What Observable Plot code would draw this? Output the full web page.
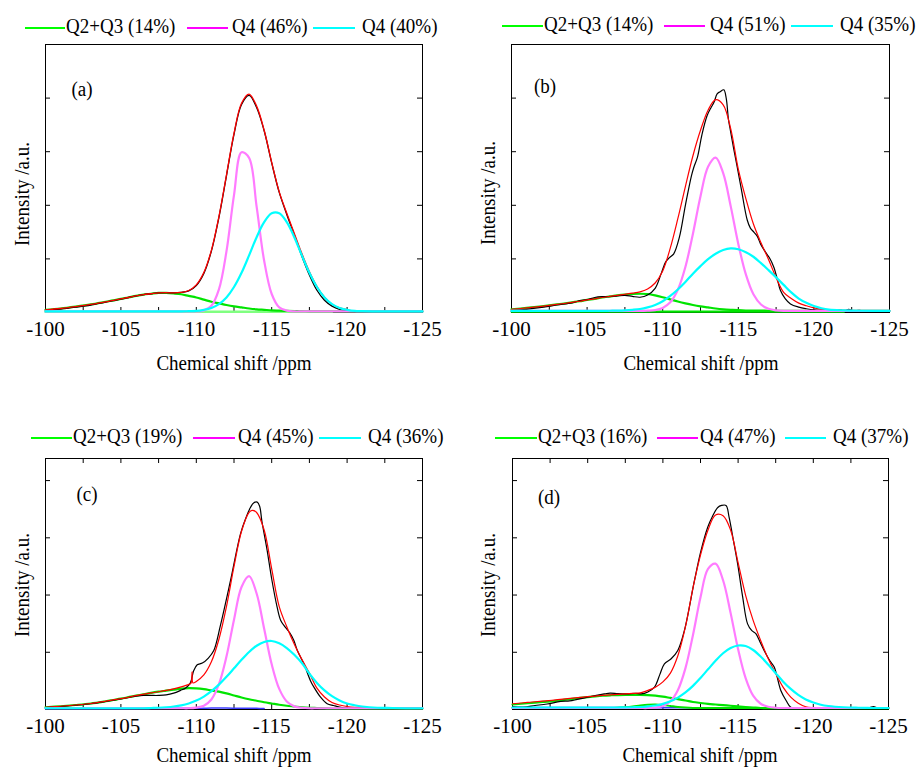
<!DOCTYPE html>
<html><head><meta charset="utf-8">
<script src="https://cdn.jsdelivr.net/npm/d3@7"></script>
<script src="https://cdn.jsdelivr.net/npm/@observablehq/plot@0.6"></script>
<style>
body{margin:0;background:#fff;}
#root{position:relative;width:918px;height:771px;overflow:hidden;font-family:"Liberation Serif","Times New Roman",serif;color:#000;background:#fff;}
.t{position:absolute;font-size:20px;line-height:1;white-space:nowrap;transform:translate(-50%,-50%) scaleX(0.95);}
.leg{position:absolute;font-size:20px;line-height:1;white-space:nowrap;transform-origin:0 50%;transform:scaleX(0.95);}
.ln{position:absolute;height:2px;}
.pl{position:absolute;}
</style></head><body><div id="root"></div>
<script>
// ---------- shared chemical-shift grid (ppm) ----------
const ppm = [-100,-101,-102,-103,-104,-104.5,-105,-105.5,-106,-106.5,-107,-107.5,-108,-108.5,-109,-109.5,-110,-110.5,-111,-111.5,-112,-112.5,-113,-113.5,-114,-114.5,-115,-115.5,-116,-116.5,-117,-117.5,-118,-118.5,-119,-119.5,-120,-120.5,-121,-122,-123,-124,-125];
const xMajor = [-100,-105,-110,-115,-120,-125];
const xMinor = [-102.5,-107.5,-112.5,-117.5,-122.5];
const yTicksAB = [20,40,60,80];
const yTicksCD = [22.8,45.6,68.4,91.2];

// ---------- panel (a) ----------
const greenA = [1.0,1.5,2.2,3.0,4.0,4.5,5.1,5.6,6.2,6.7,7.0,7.3,7.3,7.1,6.8,6.2,5.6,4.8,4.0,3.4,2.8,2.3,1.9,1.5,1.2,1.0,0.8,0.7,0.6,0.55,0.5,0.45,0.45,0.4,0.4,0.4,0.4,0.4,0.4,0.4,0.4,0.4,0.4];
const magentaA = [0.4,0.4,0.4,0.4,0.4,0.4,0.4,0.4,0.4,0.4,0.4,0.4,0.4,0.4,0.4,0.4,0.4,0.8,2.5,8.6,22.8,43.8,59.8,57.7,39.5,19.3,6.9,1.9,0.7,0.4,0.4,0.4,0.4,0.4,0.4,0.4,0.4,0.4,0.4,0.4,0.4,0.4,0.4];
const cyanA = [0.4,0.4,0.4,0.4,0.4,0.4,0.4,0.4,0.4,0.4,0.4,0.4,0.4,0.4,0.4,0.5,0.6,1.0,1.7,3.1,5.6,9.5,14.8,21.3,28.1,33.7,37.0,37.0,33.7,28.1,21.3,14.8,9.5,5.6,3.1,1.7,1.0,0.6,0.5,0.4,0.4,0.4,0.4];
const redA = [1.0,1.5,2.2,3.0,4.0,4.5,5.1,5.6,6.2,6.7,7.0,7.3,7.4,7.3,7.5,8.2,10.3,14.9,23.2,35.8,51.3,66.8,78.1,81.5,77.0,68.0,56.0,45.0,37.0,29.5,22.0,15.2,9.7,5.7,3.1,1.7,1.0,0.6,0.5,0.4,0.4,0.4,0.4];
const blackA = [0.8,1.3,2.0,2.8,3.9,4.4,5.0,5.6,6.2,6.7,7.0,7.3,7.4,7.3,7.5,8.1,10.1,14.6,22.9,35.5,51.0,66.5,77.6,81.0,76.5,67.8,55.8,44.8,36.6,29.0,21.0,14.0,8.3,4.6,2.4,1.2,0.7,0.5,0.4,0.4,0.4,0.4,0.4];
const baseA_ppm = [-100,-110,-119];
const baseA = [0.3,0.3,0.3];
const legendA = ["Q2+Q3 (14%)","Q4 (46%)","Q4 (40%)"];

// ---------- panel (b) ----------
const greenB = [1.2,1.7,2.3,3.0,3.8,4.2,4.7,5.1,5.6,6.0,6.4,6.7,6.9,7.0,6.9,6.4,5.7,4.9,4.1,3.4,2.8,2.3,1.9,1.5,1.2,1.0,0.85,0.75,0.7,0.7,0.65,0.65,0.6,0.6,0.6,0.6,0.6,0.6,0.6,0.6,0.6,0.6,0.6];
const magentaB = [0.6,0.6,0.6,0.6,0.6,0.6,0.6,0.6,0.6,0.6,0.6,0.6,0.6,0.6,0.7,0.9,1.7,3.8,8.5,17.0,29.4,43.4,54.4,57.8,52.0,39.6,25.6,14.2,6.8,3.0,1.4,0.8,0.6,0.6,0.6,0.6,0.6,0.6,0.6,0.6,0.6,0.6,0.6];
const cyanB = [0.6,0.6,0.6,0.6,0.6,0.6,0.6,0.6,0.6,0.65,0.7,0.8,1.0,1.3,1.9,2.8,4.2,6.2,8.6,11.4,14.5,17.3,19.9,21.9,23.3,23.9,23.6,22.5,20.8,18.4,15.8,13.1,10.3,7.5,5.2,3.6,2.4,1.6,1.1,0.8,0.65,0.6,0.6];
const redB = [1.2,1.7,2.3,3.0,3.8,4.2,4.7,5.1,5.6,6.0,6.4,6.8,7.2,7.7,8.8,11.0,15.5,24.0,35.0,47.0,58.5,68.0,75.5,79.4,77.5,68.5,53.5,42.5,33.0,26.0,19.8,13.0,7.5,5.2,3.5,2.5,1.7,1.2,1.0,0.8,0.7,0.6,0.6];
const blackB_ppm = [-100,-101,-102,-103,-104,-104.5,-105,-105.5,-106,-106.5,-107,-107.5,-108,-108.5,-109,-109.5,-109.9,-110.19,-110.45,-110.73,-111.1,-111.5,-111.9,-112.06,-112.3,-112.6,-112.94,-113.2,-113.4,-113.6,-113.8,-114.04,-114.2,-114.35,-114.48,-114.7,-114.93,-115.2,-115.59,-115.8,-116.03,-116.25,-116.47,-116.8,-117.05,-117.35,-117.6,-117.79,-118.1,-118.45,-119,-119.5,-120,-121,-121.8,-122,-122.3,-122.6,-123,-123.5,-124,-124.5,-125];
const blackB = [0.8,1.2,1.9,2.8,3.6,4.4,4.8,5.6,5.9,5.9,6.2,6.4,6.0,5.7,6.5,9.0,14.5,18.8,20.5,21.9,28,40,51,54.2,58,66.5,73.5,76.5,78.5,81.6,82.4,83.1,80,72,67.9,61,54.2,46,34.5,31.5,30,28.5,25.6,22.5,20.5,16.9,12,8.2,5.2,3.2,2.0,1.4,1.0,0.8,0.9,0.5,1.2,0.6,0.8,0.5,0.7,0.6,0.6];
const baseB_ppm = [-100,-110,-122];
const baseB = [0.35,0.35,0.35];
const legendB = ["Q2+Q3 (14%)","Q4 (51%)","Q4 (35%)"];

// ---------- panel (c) ----------
const greenC = [0.9,1.3,1.8,2.4,3.3,3.8,4.3,4.9,5.5,6.0,6.6,7.1,7.5,7.9,8.3,8.5,8.4,8.1,7.6,7.1,6.4,5.6,4.8,4.1,3.5,2.9,2.4,1.9,1.5,1.2,0.9,0.7,0.6,0.5,0.4,0.4,0.4,0.4,0.4,0.4,0.4,0.4,0.4];
const magentaC = [0.5,0.5,0.5,0.5,0.5,0.5,0.5,0.5,0.5,0.5,0.5,0.5,0.5,0.5,0.5,0.5,0.75,1.5,4.0,10.1,21.1,35.8,48.8,53.1,46.2,32.2,18.0,8.2,3.2,1.25,0.7,0.5,0.5,0.5,0.5,0.5,0.5,0.5,0.5,0.5,0.5,0.5,0.5];
const cyanC = [0.5,0.5,0.5,0.5,0.5,0.5,0.5,0.5,0.5,0.5,0.6,0.7,0.9,1.2,1.65,2.4,3.55,5.15,7.3,9.9,13.0,16.4,19.8,22.9,25.4,26.9,27.3,26.4,24.5,21.8,18.5,14.3,10.6,7.6,5.3,3.6,2.4,1.7,1.2,0.7,0.6,0.5,0.5];
const blueC_ppm = [-100,-104,-108,-110,-111,-112,-113,-114,-114.5];
const blueC = [0.4,0.4,0.45,0.5,0.55,0.55,0.5,0.45,0.4];
const redC_ppm = [-100,-101,-102,-103,-104,-105,-106,-107,-108,-108.5,-109,-109.5,-109.65,-109.72,-109.78,-110,-110.5,-111,-111.5,-112,-112.5,-113,-113.5,-113.7,-114,-114.5,-115,-115.5,-116,-116.5,-117,-117.5,-118,-118.5,-119,-119.5,-120,-120.5,-121,-122,-123,-124,-125];
const redC = [0.9,1.3,1.8,2.4,3.3,4.3,5.5,6.6,7.6,8.2,9.0,10.0,10.5,15.0,10.6,11.2,13.8,19.0,28.0,41.0,57.0,71.0,78.5,79.3,78.5,71.5,56,41,33,26,20,14.5,8.5,5.0,2.8,1.8,1.2,0.9,0.8,0.7,0.6,0.6,0.5];
const blackC_ppm = [-100,-101,-102,-103,-104,-105,-106,-106.5,-107,-107.5,-108,-108.5,-108.95,-109.3,-109.6,-109.83,-110.06,-110.4,-110.8,-111.16,-111.6,-112.27,-112.93,-113.3,-113.6,-113.8,-114.04,-114.2,-114.35,-114.7,-115.0,-115.36,-115.6,-115.9,-116.2,-116.47,-116.7,-117.13,-117.57,-117.8,-118.24,-118.68,-119.1,-119.5,-120,-121,-122,-123,-124,-125];
const blackC = [0.8,1.2,1.7,2.3,3.2,4.2,5.3,5.6,5.6,5.6,5.8,6.5,7.6,8.6,10.5,15.5,17.8,18.5,20.5,23.5,33.5,51.4,70,76.5,80.6,82.3,82.6,81,75,63.3,52,40.8,35.5,32.8,30.5,27.5,23.5,18.2,11.5,8.9,4.9,2.3,1.6,1.0,0.6,0.6,0.7,0.6,0.5,0.5];
const legendC = ["Q2+Q3 (19%)","Q4 (45%)","Q4 (36%)"];

// ---------- panel (d) ----------
const greenD = [2.0,2.5,3.0,3.5,4.2,4.6,4.95,5.25,5.5,5.65,5.75,5.8,5.85,5.85,5.75,5.5,5.1,4.6,4.1,3.6,3.0,2.6,2.25,2.0,1.75,1.5,1.25,1.0,0.8,0.6,0.55,0.5,0.5,0.5,0.5,0.5,0.5,0.5,0.5,0.5,0.5,0.5,0.5];
const green2D = [0.6,0.6,0.6,0.6,0.6,0.6,0.6,0.6,0.6,0.6,0.7,0.9,1.2,1.6,1.9,2.0,1.8,1.4,1.0,0.75,0.6,0.6,0.6,0.6,0.6,0.6,0.6,0.6,0.6,0.6,0.6,0.6,0.6,0.6,0.6,0.6,0.6,0.6,0.6,0.6,0.6,0.6,0.6];
const magentaD = [0.6,0.6,0.6,0.6,0.6,0.6,0.6,0.6,0.6,0.6,0.6,0.6,0.6,0.6,0.6,0.8,1.4,3.3,7.8,16.5,29.7,44.7,56.0,58.1,51.5,38.5,24.0,12.5,5.5,2.3,1.1,0.7,0.6,0.6,0.6,0.6,0.6,0.6,0.6,0.6,0.6,0.6,0.6];
const cyanD = [0.8,0.8,0.8,0.8,0.8,0.8,0.8,0.8,0.8,0.8,0.8,0.85,0.9,1.0,1.25,1.6,2.25,3.25,4.75,6.8,9.4,12.55,16.0,19.4,22.4,24.5,25.5,25.3,23.7,21.1,17.9,14.45,11.1,8.2,5.8,4.0,2.8,1.9,1.4,0.9,0.7,0.6,0.6];
const blueD_ppm = [-100,-104,-108,-110,-112,-113];
const blueD = [0.8,0.8,0.75,0.7,0.65,0.6];
const redD = [2.3,2.8,3.3,3.9,4.5,4.8,5.1,5.35,5.6,5.8,6.0,6.2,6.4,6.6,7.6,8.9,11.0,14.5,21.5,33.0,48.5,61.5,71.5,77.5,77.2,71.5,58.5,45.5,35.5,27.5,20.3,14.3,8.8,4.9,2.5,1.1,0.7,0.6,0.5,0.5,0.5,0.5,0.5];
const blackD_ppm = [-100,-100.7,-101.5,-102.3,-103.2,-103.8,-104.3,-105,-105.5,-106.1,-106.5,-107,-107.6,-108.2,-108.55,-109,-109.44,-109.8,-110.1,-110.55,-110.99,-111.43,-112.1,-112.5,-112.98,-113.3,-113.65,-113.9,-114.2,-114.4,-114.7,-114.97,-115.3,-115.63,-115.9,-116.18,-116.45,-116.73,-117.1,-117.4,-117.84,-118.2,-118.5,-119,-120,-121,-122,-123,-123.7,-124,-124.3,-125];
const blackD = [1.2,1.0,1.6,2.2,3.2,3.4,4.0,4.9,5.5,6.2,6.5,6.3,6.2,6.4,6.2,7.0,8.9,14,18.2,20.2,23.5,31.5,51.4,62.5,72.6,77,80.5,81.3,81.3,76.6,67,58,45,34.1,31.5,30.2,27,23.5,19.5,16.9,7.6,3.5,0.9,0.6,0.5,0.6,0.5,0.6,0.7,1.2,0.6,0.5];
const legendD = ["Q2+Q3 (16%)","Q4 (47%)","Q4 (37%)"];

const panelLabels = ["(a)","(b)","(c)","(d)"];
const xTitle = "Chemical shift /ppm";
const yTitle = "Intensity /a.u.";

// ---------- styles ----------
const C = {green:"#00e400", lgreen:"#80ff80", magenta:"#ff7bff", cyan:"#00ffff", red:"#ff0000", black:"#000000", blue:"#3c3cff"};
const LEGC = ["#00ff00","#ff00ff","#00ffff"];
const root = document.getElementById("root");
const zip = (xs, ys) => xs.map((x, i) => [x, ys[i]]);
const TICK_FONT = 21;

function panel(p) {
  const fw = p.width - p.ml - p.mr, fh = p.height - p.mt - p.mb;
  const tY = 5 * 100 / fh, tX = 5 * 25 / fw;
  const xAll = xMajor.concat(xMinor);
  const marks = [
    Plot.frame({stroke: "#000", strokeWidth: 1}),
    Plot.ruleX(xAll, {x: d => d, y1: 0, y2: tY, stroke: "#000"}),
    Plot.ruleY(p.yTicks, {y: d => d, x1: -100, x2: -100 - tX, stroke: "#000"}),
    Plot.ruleY(p.yTicks, {y: d => d, x1: -125 + tX, x2: -125, stroke: "#000"})
  ];
  if (p.topTicks) marks.push(Plot.ruleX(xAll, {x: d => d, y1: 100 - tY, y2: 100, stroke: "#000"}));
  const xOpts = {domain: [-100, -125]};
  if (Plot.axisX) {
    marks.push(Plot.axisX({ticks: xMajor, tickSize: 0, tickPadding: 9, tickFormat: d => String(d), fontSize: TICK_FONT, label: null}));
  } else {
    Object.assign(xOpts, {ticks: xMajor, tickSize: 0, tickPadding: 9, tickFormat: d => String(d), label: null});
  }
  for (const s of p.series) {
    marks.push(Plot.line(zip(s.x, s.y), {stroke: s.c, strokeWidth: s.w, curve: "catmull-rom"}));
  }
  const svg = Plot.plot({
    width: p.width, height: p.height,
    marginLeft: p.ml, marginRight: p.mr, marginTop: p.mt, marginBottom: p.mb,
    style: {fontFamily: '"Liberation Serif","Times New Roman",serif', fontSize: TICK_FONT + "px", color: "#000", background: "transparent"},
    x: xOpts,
    y: {domain: [0, 100], axis: null},
    marks
  });
  svg.querySelectorAll("text").forEach(t => { t.style.fontSize = TICK_FONT + "px"; t.style.fontVariant = "normal"; });
  svg.classList.add("pl");
  svg.style.left = p.left + "px";
  svg.style.top = p.top + "px";
  root.appendChild(svg);

  // legend
  p.legend.forEach((lab, i) => {
    const [x0, x1, tx] = p.legPos[i];
    const ln = document.createElement("div");
    ln.className = "ln";
    ln.style.left = x0 + "px"; ln.style.width = (x1 - x0) + "px";
    ln.style.top = (p.legY - 1) + "px"; ln.style.background = LEGC[i];
    root.appendChild(ln);
    const t = document.createElement("div");
    t.className = "leg"; t.textContent = lab;
    t.style.left = tx + "px"; t.style.top = (p.legY - 12) + "px";
    root.appendChild(t);
  });
  const addText = (txt, x, y, rot) => {
    const d = document.createElement("div");
    d.className = "t"; d.textContent = txt;
    d.style.left = x + "px"; d.style.top = y + "px";
    if (rot) d.style.transform = "translate(-50%,-50%) rotate(-90deg) scaleX(0.95)";
    root.appendChild(d);
  };
  addText(p.label, p.labX, p.labY);
  addText(xTitle, p.xtX, p.xtY);
  addText(yTitle, p.ytX, p.ytY, true);
}

panel({left: 0, top: 34, width: 459, height: 316, ml: 45, mr: 37, mt: 10, mb: 38, yTicks: yTicksAB, topTicks: false,
  series: [
    {x: baseA_ppm, y: baseA, c: C.lgreen, w: 2.5},
    {x: ppm, y: greenA, c: C.green, w: 2.2},
    {x: ppm, y: blackA, c: C.black, w: 1.3},
    {x: ppm, y: redA, c: C.red, w: 1.3},
    {x: ppm, y: magentaA, c: C.magenta, w: 2.2},
    {x: ppm, y: cyanA, c: C.cyan, w: 2.2}
  ],
  legend: legendA, legPos: [[25,65,66],[187,228,232],[313,355,362]], legY: 28,
  label: panelLabels[0], labX: 82, labY: 89, xtX: 234, xtY: 363, ytX: 22, ytY: 194});

panel({left: 459, top: 34, width: 459, height: 316, ml: 52, mr: 29, mt: 10, mb: 38, yTicks: yTicksAB, topTicks: false,
  series: [
    {x: baseB_ppm, y: baseB, c: C.green, w: 2.2},
    {x: ppm, y: greenB, c: C.green, w: 2.2},
    {x: blackB_ppm, y: blackB, c: C.black, w: 1.2},
    {x: ppm, y: redB, c: C.red, w: 1.2},
    {x: ppm, y: magentaB, c: C.magenta, w: 2.2},
    {x: ppm, y: cyanB, c: C.cyan, w: 2.2}
  ],
  legend: legendB, legPos: [[502,543,544],[664,705,710],[791,833,840]], legY: 26,
  label: panelLabels[1], labX: 545, labY: 86, xtX: 701, xtY: 363, ytX: 488, ytY: 193});

panel({left: 0, top: 448, width: 459, height: 299, ml: 45, mr: 37, mt: 10, mb: 38, yTicks: yTicksCD, topTicks: true,
  series: [
    {x: blueC_ppm, y: blueC, c: C.blue, w: 1.5},
    {x: ppm, y: greenC, c: C.green, w: 2.2},
    {x: blackC_ppm, y: blackC, c: C.black, w: 1.2},
    {x: redC_ppm, y: redC, c: C.red, w: 1.2},
    {x: ppm, y: magentaC, c: C.magenta, w: 2.2},
    {x: ppm, y: cyanC, c: C.cyan, w: 2.2}
  ],
  legend: legendC, legPos: [[31,72,73],[193,235,238],[319,361,368]], legY: 438,
  label: panelLabels[2], labX: 87, labY: 494, xtX: 234, xtY: 755, ytX: 22, ytY: 585});

panel({left: 459, top: 448, width: 459, height: 299, ml: 53, mr: 30, mt: 10, mb: 38, yTicks: yTicksCD, topTicks: true,
  series: [
    {x: blueD_ppm, y: blueD, c: C.blue, w: 1.5},
    {x: ppm, y: green2D, c: C.green, w: 2},
    {x: ppm, y: greenD, c: C.green, w: 2.2},
    {x: blackD_ppm, y: blackD, c: C.black, w: 1.2},
    {x: ppm, y: redD, c: C.red, w: 1.2},
    {x: ppm, y: magentaD, c: C.magenta, w: 2.2},
    {x: ppm, y: cyanD, c: C.cyan, w: 2.2}
  ],
  legend: legendD, legPos: [[495,537,538],[657,698,700],[785,826,833]], legY: 438,
  label: panelLabels[3], labX: 549, labY: 497, xtX: 700, xtY: 755, ytX: 488, ytY: 585});
</script>
</body></html>
